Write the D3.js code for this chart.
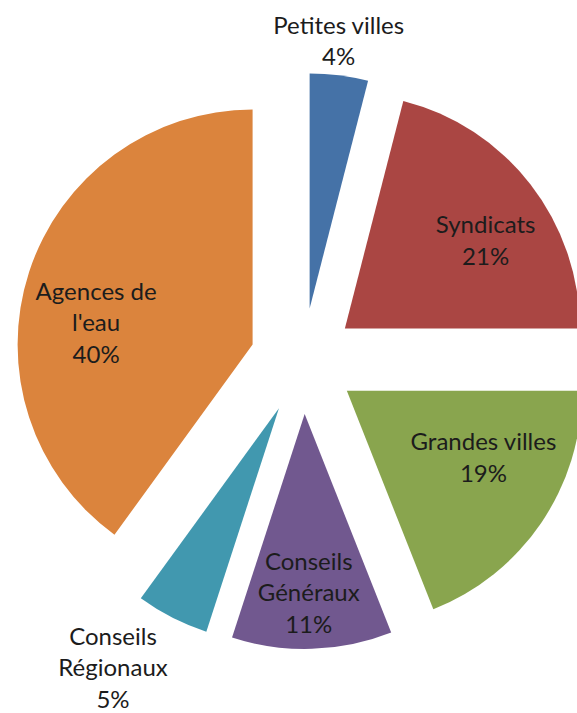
<!DOCTYPE html>
<html>
<head>
<meta charset="utf-8">
<script src="https://cdn.jsdelivr.net/npm/d3@7"></script>
<style>
  html, body { margin: 0; padding: 0; background: #ffffff; }
  svg { display: block; }
</style>
</head>
<body>
<div id="chart"></div>
<script>
// ---- Data ----
const categories = ["Petites villes", "Syndicats", "Grandes villes", "Conseils Généraux", "Conseils Régionaux", "Agences de l'eau"];
const values = [4, 21, 19, 11, 5, 40];
const labelLines = [["Petites villes"], ["Syndicats"], ["Grandes villes"], ["Conseils", "Généraux"], ["Conseils", "Régionaux"], ["Agences de", "l'eau"]];
const colors = ["#4572A7", "#AA4643", "#89A54E", "#71588F", "#4198AF", "#DB843D"];

// ---- Layout ----
const W = 577, H = 713;
const cx = 303, cy = 361, R = 235, explode = 53;
// label placement relative to each (exploded) slice apex: [angle in degrees, radius]
const labelPlace = [[6.2, 269], [58, 166], [116, 152], [178.7, 179], [212.6, 308], [278, 158]];
const fontSize = 24, lineH = 31.5;

const svg = d3.select("#chart").append("svg").attr("width", W).attr("height", H);

const pie = d3.pie().sort(null).value(d => d)(values);
const arc = d3.arc().innerRadius(0).outerRadius(R);

const g = svg.append("g").attr("transform", `translate(${cx},${cy})`);

const slices = g.selectAll("g.slice").data(pie).enter().append("g")
  .attr("class", "slice")
  .attr("transform", d => {
    const a = (d.startAngle + d.endAngle) / 2;
    return `translate(${explode * Math.sin(a)},${-explode * Math.cos(a)})`;
  });

slices.append("path")
  .attr("d", arc)
  .attr("fill", (d, i) => colors[i]);

slices.each(function(d, i) {
  const [ang, r] = labelPlace[i];
  const a = ang * Math.PI / 180;
  const x = r * Math.sin(a), y = -r * Math.cos(a);
  const lines = labelLines[i].concat([values[i] + "%"]);
  const n = lines.length;
  const t = d3.select(this).append("text")
    .attr("text-anchor", "middle")
    .attr("font-family", "Lato, 'Open Sans', sans-serif")
    .attr("font-size", fontSize)
    .attr("fill", "#1c1c1c");
  lines.forEach((ln, k) => {
    t.append("tspan")
      .attr("x", x)
      .attr("y", y + (k - (n - 1) / 2) * lineH)
      .attr("dy", "0.35em")
      .text(ln);
  });
});
</script>
</body>
</html>
